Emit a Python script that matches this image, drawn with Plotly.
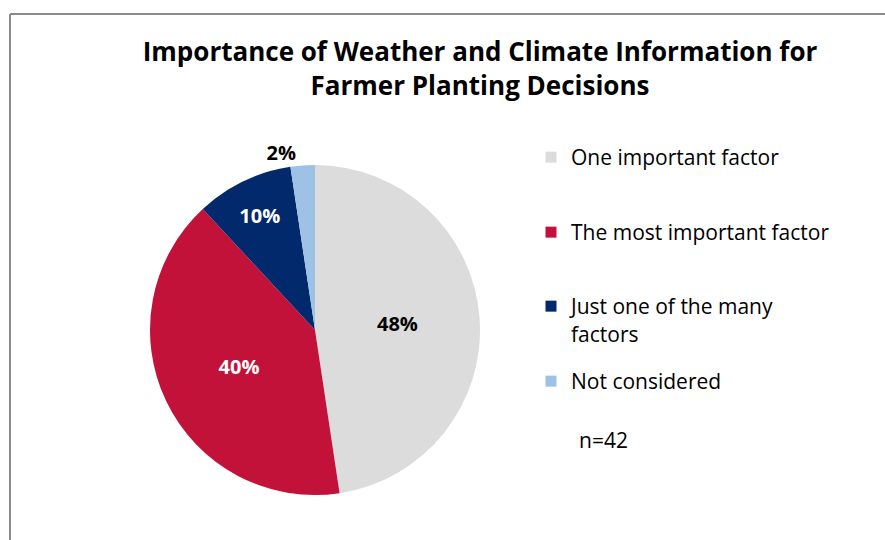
import plotly.graph_objects as go

# data (n=42 respondents)
labels = ['One important factor', 'The most important factor', 'Just one of the many<br>factors', 'Not considered']
counts = [20, 17, 4, 1]
colors = ['#DCDCDC', '#C3123A', '#02296B', '#9EC1E6']
text_colors = ['black', 'white', 'white', 'black']
text_pos = ['inside', 'inside', 'inside', 'outside']

W, H = 885, 540

fig = go.Figure()

fig.add_trace(go.Pie(
    labels=labels,
    values=counts,
    sort=False,
    direction='clockwise',
    rotation=0,
    marker=dict(colors=colors, line=dict(width=0)),
    texttemplate='%{percent:.0%}',
    textposition=text_pos,
    insidetextorientation='horizontal',
    insidetextfont=dict(color=text_colors),
    outsidetextfont=dict(color='black'),
    textfont=dict(family='Open Sans', size=20, weight='bold'),
    domain=dict(x=[150 / W, 480 / W], y=[1 - 495 / H, 1 - 165 / H]),
    showlegend=False,
    hoverinfo='label+percent',
))

# one small legend per entry so each can sit where the original puts it
legend_tops = [137, 212, 286, 361]
legend_names = ['legend', 'legend2', 'legend3', 'legend4']
for i in range(len(labels)):
    fig.add_trace(go.Scatter(
        x=[None], y=[None], mode='markers', name=labels[i],
        marker=dict(symbol='square', size=11, color=colors[i]),
        legend=legend_names[i], showlegend=True,
    ))

legend_style = dict(
    x=531 / W, xanchor='left', yanchor='top',
    font=dict(family='Open Sans', size=21, color='black'),
    valign='top', itemwidth=30, bgcolor='rgba(0,0,0,0)',
)

fig.update_layout(
    width=W, height=H,
    margin=dict(l=0, r=0, t=0, b=0),
    paper_bgcolor='white', plot_bgcolor='white',
    font=dict(family='Open Sans', color='black'),
    title=dict(
        text='<b>Importance of Weather and Climate Information for<br>Farmer Planting Decisions</b>',
        font=dict(family='Open Sans', size=26, color='black'),
        x=480 / W, xanchor='center', y=1 - 61 / H, yanchor='middle',
    ),
    xaxis=dict(visible=False),
    yaxis=dict(visible=False),
    legend=dict(legend_style, y=1 - legend_tops[0] / H),
    legend2=dict(legend_style, y=1 - legend_tops[1] / H),
    legend3=dict(legend_style, y=1 - legend_tops[2] / H),
    legend4=dict(legend_style, y=1 - legend_tops[3] / H),
    shapes=[
        dict(type='line', xref='paper', yref='paper', x0=10 / W, x1=1.01,
             y0=1 - 14 / H, y1=1 - 14 / H, line=dict(color='#8C8C8C', width=2)),
        dict(type='line', xref='paper', yref='paper', x0=10 / W, x1=10 / W,
             y0=1 - 14 / H, y1=-0.01, line=dict(color='#8C8C8C', width=2)),
    ],
    annotations=[
        dict(text='n=42', xref='paper', yref='paper', x=577 / W, y=1 - 440 / H,
             xanchor='left', yanchor='middle', showarrow=False,
             font=dict(family='Open Sans', size=21, color='black')),
    ],
)

fig.write_html("out.html", config={'displayModeBar': False},
               post_script="document.body.style.margin='0px';")
